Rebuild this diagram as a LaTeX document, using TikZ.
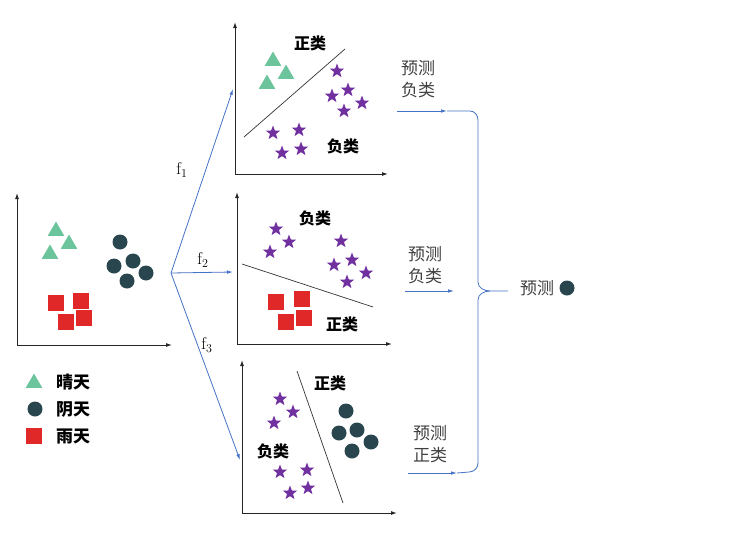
\documentclass[tikz,border=0pt]{standalone}
\usepackage{fontspec}
\newfontfamily\cjk{Noto Sans CJK SC}
\usetikzlibrary{shapes.geometric,arrows.meta}
\definecolor{sunny}{HTML}{6CC49C}
\definecolor{cloudy}{HTML}{29464E}
\definecolor{rainy}{HTML}{E02828}
\definecolor{neg}{HTML}{7030A0}
\definecolor{flow}{HTML}{4472C4}
\tikzset{
  tri/.style={regular polygon, regular polygon sides=3, fill=sunny, minimum size=19pt, inner sep=0pt},
  dot/.style={circle, fill=cloudy, minimum size=15pt, inner sep=0pt},
  sq/.style={rectangle, fill=rainy, minimum size=16pt, inner sep=0pt},
  pstar/.style={star, star points=5, star point ratio=2.4, fill=neg, minimum size=15pt, inner sep=0pt},
  axis/.style={{Latex[length=6pt,width=4pt]}-{Latex[length=6pt,width=4pt]}, line width=1pt, black!85},
  cut/.style={line width=0.7pt, black!80},
  flowline/.style={flow, line width=0.8pt},
  flowarrow/.style={flowline, -{Latex[length=6pt,width=3.5pt]}},
  cls/.style={font=\cjk\bfseries\fontsize{16}{18}\selectfont},
  lgd/.style={font=\cjk\bfseries\fontsize{17}{19}\selectfont},
  pred/.style={font=\cjk\fontsize{17}{22}\selectfont, text=black!75, align=left},
  fname/.style={font=\fontsize{17}{19}\selectfont}
}
\begin{document}
\begin{tikzpicture}[x=1pt,y=-1pt]
\useasboundingbox (0,0) rectangle (744,533);

% input data
\draw[axis] (17,193) |- (172,345);
\node[tri] (t1) at (56,231) {};
\node[tri] (t2) at (69,244) {};
\node[tri] (t3) at (50,254) {};
\foreach \x/\y [count=\i] in {120/242,114/266,133/261,146/273,127/281}
  \node[dot] (c\i) at (\x,\y) {};
\foreach \x/\y [count=\i] in {56/303,81/301,66/322,84/318}
  \node[sq] (r\i) at (\x,\y) {};

% legend
\node[tri] (lt) at (34,383) {};
\node[dot] (lc) at (35,409) {};
\node[sq] (lr) at (34,436) {};
\node[lgd] (ltx) at (73,382) {晴天};
\node[lgd] (lcx) at (73,409) {阴天};
\node[lgd] (lrx) at (73,436) {雨天};

% classifiers
\coordinate (split) at (171,273);
\coordinate (in1) at (233,89);
\coordinate (in2) at (233,272);
\coordinate (in3) at (240,460);
\draw[flowarrow] (split) -- (in1);
\draw[flowarrow] (split) -- (in2);
\draw[flowarrow] (split) -- (in3);
\node[fname] (f1) at (182,170) {f$_1$};
\node[fname] (f2) at (203,260) {f$_2$};
\node[fname] (f3) at (207,345) {f$_3$};

% plot 1
\draw[axis] (235,22) |- (388,174);
\draw[cut] (244,137) -- (345,49);
\node[tri] (a1) at (273,61) {};
\node[tri] (a2) at (286,74) {};
\node[tri] (a3) at (267,84) {};
\foreach \x/\y [count=\i] in {337/71,332/96,348/90,362/103,344/111,273/133,299/130,282/153,301/149}
  \node[pstar] (p\i) at (\x,\y) {};
\node[cls] (pos1) at (310,43) {正类};
\node[cls] (neg1) at (343,146) {负类};

% plot 2
\draw[axis] (237,192) |- (392,344);
\draw[cut] (242,264) -- (373,307);
\foreach \x/\y [count=\i] in {276/229,289/242,270/252,341/241,334/265,352/260,366/273,347/282}
  \node[pstar] (q\i) at (\x,\y) {};
\foreach \x/\y [count=\i] in {276/302,302/299,286/322,304/318}
  \node[sq] (b\i) at (\x,\y) {};
\node[cls] (neg2) at (315,218) {负类};
\node[cls] (pos2) at (342,324) {正类};

% plot 3
\draw[axis] (242,360) |- (397,513);
\draw[cut] (297,371) -- (343,503);
\foreach \x/\y [count=\i] in {280/399,293/412,274/423,280/472,307/470,290/493,308/488}
  \node[pstar] (u\i) at (\x,\y) {};
\foreach \x/\y [count=\i] in {346/411,339/433,357/430,371/442,352/451}
  \node[dot] (d\i) at (\x,\y) {};
\node[cls] (pos3) at (330,383) {正类};
\node[cls] (neg3) at (273,451) {负类};

% votes
\node[pred] (v1) at (418,79) {预测\\负类};
\node[pred] (v2) at (425,265) {预测\\负类};
\node[pred] (v3) at (430,444) {预测\\正类};
\coordinate (s1) at (397,111);
\coordinate (e1) at (447,111);
\coordinate (s2) at (405,291);
\coordinate (e2) at (454,291);
\coordinate (s3) at (408,473);
\coordinate (e3) at (457,473);
\coordinate (cusp) at (490,291);
\coordinate (out) at (508,291);
\draw[flowarrow] (s1) -- (e1);
\draw[flowarrow] (s2) -- (e2);
\draw[flowarrow] (s3) -- (e3);
\draw[flowline] (e1) -- (470,111) to[out=0,in=90] (478,120) -- (478,282) to[out=-90,in=180] (cusp) -- (out);
\draw[flowline] (e3) -- (469,472) to[out=0,in=-90] (478,463) -- (478,300) to[out=90,in=180] (cusp);

% result
\node[pred] (res) at (537,288) {预测};
\node[dot] (rc) at (567,288) {};
\end{tikzpicture}
\end{document}
